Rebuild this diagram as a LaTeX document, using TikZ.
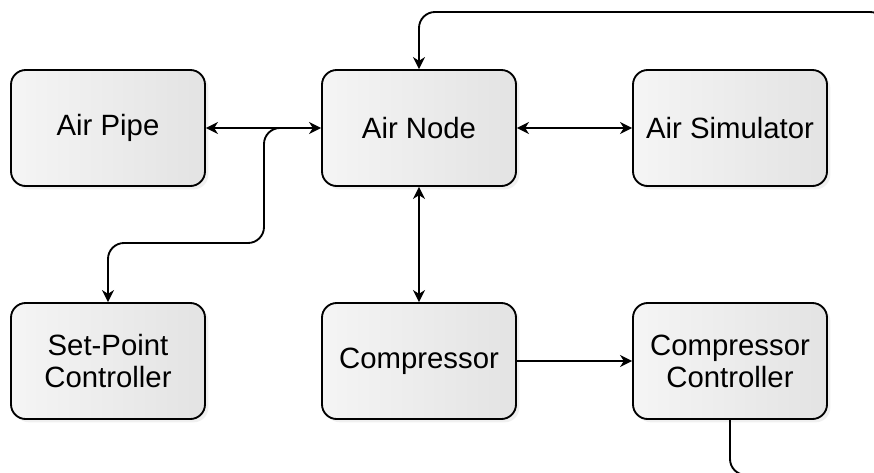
\documentclass[tikz,border=0pt]{standalone}
\usepackage{fontspec}
\setmainfont{Liberation Sans}
\usetikzlibrary{arrows.meta,shadows}

\begin{document}
\begin{tikzpicture}[x=0.75pt,y=0.75pt,>={Stealth[length=9pt,width=9pt,inset=2.8pt]}]
                \tikzstyle{blk}=[draw=black, line width=1.4pt, rounded corners=11pt,
                  minimum width=145.5pt, minimum height=87pt, align=center,
                  left color=black!4, right color=black!11,
                  drop shadow={opacity=0.12, shadow xshift=2.5pt, shadow yshift=-2.5pt},
                  font=\fontsize{22}{24}\selectfont]
                \tikzstyle{wire}=[draw=black, line width=1.4pt, rounded corners=12pt]
                \useasboundingbox (0,0) rectangle (874,-472);
                \node [blk] (airpipe) at (108,-128) {Air Pipe};
                \node [blk] (airnode) at (419,-128) {Air Node};
                \node [blk] (airsim) at (730,-128) {Air Simulator};
                \node [blk] (setpt) at (108,-361) {Set-Point\\Controller};
                \node [blk] (comp) at (419,-361) {Compressor};
                \node [blk] (compctl) at (730,-361) {Compressor\\Controller};
                \coordinate (tap) at (282,-128);
                \coordinate (bend) at (264,-243);
                \coordinate (fbtop) at (886,-12);
                \coordinate (fbin) at (886,-40);
                \coordinate (fbout) at (886,-475);
                \draw [wire, <->] (airpipe) -- (airnode);
                \draw [wire, <->] (airnode) -- (airsim);
                \draw [wire, <->] (airnode) -- (comp);
                \draw [wire, ->] (comp) -- (compctl);
                \draw [wire, ->] (tap) -- (264,-128) -- (bend) -| (setpt.north);
                \draw [wire, ->] (fbin) -- (fbtop) -| (airnode.north);
                \draw [wire] (compctl.south) |- (fbout);
\end{tikzpicture}
\end{document}
